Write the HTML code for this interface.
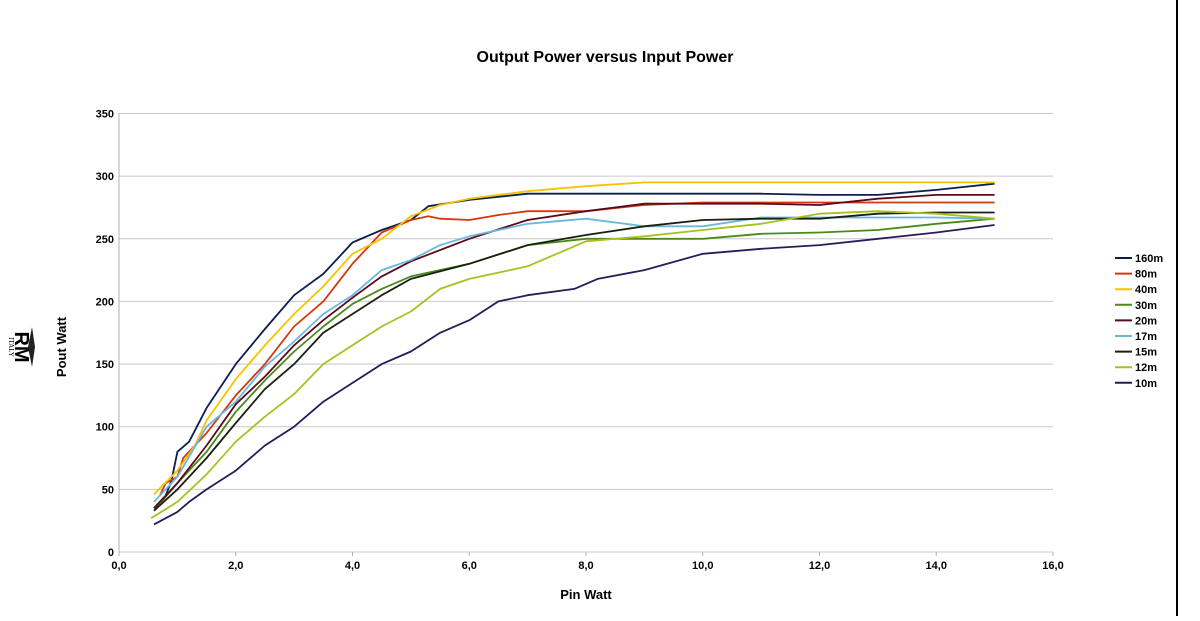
<!DOCTYPE html>
<html><head><meta charset="utf-8"><style>
body{margin:0;background:#fff;font-family:"Liberation Sans",sans-serif}
svg text{font-family:"Liberation Sans",sans-serif}
</style></head><body>
<svg id="chart" width="1200" height="616">
<line x1="1177" y1="0" x2="1177" y2="616" stroke="#000" stroke-width="2"/>
<text x="605" y="62" text-anchor="middle" font-size="16" font-weight="bold">Output Power versus Input Power</text>
<text x="0" y="0" transform="translate(66,347) rotate(-90)" text-anchor="middle" font-size="13" font-weight="bold">Pout Watt</text>
<text x="586" y="599" text-anchor="middle" font-size="13" font-weight="bold">Pin Watt</text>
<g transform="translate(22,347) rotate(90)">
<text x="0" y="7" text-anchor="middle" font-size="20" font-weight="bold">RM</text>
<text x="0" y="13" text-anchor="middle" font-size="7" style="font-family:'Liberation Serif',serif">ITALY</text>
<path d="M-20,-10 L0,-6 L20,-10 L0,-13 Z" fill="#222"/>
</g>
<g id="grid"></g><g id="series"></g><g id="legend"></g>
</svg>
<script>
const xTicks=[0,2,4,6,8,10,12,14,16];
const yTicks=[0,50,100,150,200,250,300,350];
const names=["160m","80m","40m","30m","20m","17m","15m","12m","10m"];
const colors=["#0d1f4f","#d03a10","#f5c400","#4a8a1a","#5a0a1a","#6ab8e0","#1a2010","#a8c020","#2a1a5a"];
const s160x=[0.6,0.8,0.9,1.0,1.2,1.5,2,2.5,3,3.5,4,4.5,5,5.3,6,7,8,9,10,11,12,13,14,15];
const s160y=[35,45,57,80,88,115,150,178,205,222,247,257,265,276,281,286,286,286,286,286,285,285,289,294];
const s80x=[0.7,0.8,1,1.1,1.5,2,2.5,3,3.5,4,4.5,5,5.3,5.5,6,6.5,7,8,9,10,11,12,13,14,15];
const s80y=[45,55,60,75,95,125,150,180,200,230,255,265,268,266,265,269,272,272,277,279,279,279,279,279,279];
const s40x=[0.6,1,1.3,1.5,2,2.5,3,3.5,4,4.5,5,5.5,6,7,8,9,10,11,12,13,14,15];
const s40y=[46,65,85,105,138,165,190,212,238,250,268,277,282,288,292,295,295,295,295,295,295,295];
const s30x=[0.6,1,1.5,2,2.5,3,3.5,4,4.5,5,6,7,8,9,10,11,12,13,14,15];
const s30y=[33,55,80,112,137,160,180,198,210,220,230,245,250,250,250,254,255,257,262,266];
const s20x=[0.6,1,1.5,2,2.5,3,3.5,4,4.5,5,6,7,8,9,10,11,12,13,14,15];
const s20y=[35,55,85,118,140,165,185,203,220,232,250,265,272,278,278,278,277,282,285,285];
const s17x=[0.6,1,1.5,2,2.5,3,3.5,4,4.5,5,5.5,6,7,8,9,10,11,12,13,14,15];
const s17y=[40,60,100,120,148,168,190,205,225,233,245,252,262,266,260,260,267,267,267,267,266];
const s15x=[0.6,1,1.5,2,2.5,3,3.5,4,4.5,5,6,7,8,9,10,11,12,13,14,15];
const s15y=[33,50,75,103,130,150,175,190,205,218,230,245,253,260,265,266,266,270,271,271];
const s12x=[0.55,1,1.5,2,2.5,3,3.5,4,4.5,5,5.5,6,7,8,9,10,11,12,13,14,15];
const s12y=[27,40,62,88,108,126,150,165,180,192,210,218,228,248,252,257,262,270,272,270,266];
const s10x=[0.6,1,1.2,1.5,2,2.5,3,3.5,4,4.5,5,5.5,6,6.5,7,7.8,8.2,9,10,11,12,13,14,15];
const s10y=[22,32,40,50,65,85,100,120,135,150,160,175,185,200,205,210,218,225,238,242,245,250,255,261];
const xs=[s160x,s80x,s40x,s30x,s20x,s17x,s15x,s12x,s10x];
const ys=[s160y,s80y,s40y,s30y,s20y,s17y,s15y,s12y,s10y];
const NS="http://www.w3.org/2000/svg";
const X=v=>119+v*(1053-119)/16, Y=v=>552-v*(552-113.5)/350;
const grid=document.getElementById('grid');
function mk(t,a,p){const e=document.createElementNS(NS,t);for(const k in a)e.setAttribute(k,a[k]);p.appendChild(e);return e;}
yTicks.forEach(t=>{
 const l=mk('line',{x1:119,x2:1053,y1:Y(t),y2:Y(t),stroke:'#c8c8c8','stroke-width':1},grid);
 
 
 const tx=mk('text',{x:114,y:Y(t)+4,'text-anchor':'end','font-size':11,'font-weight':'bold'},grid);tx.textContent=t;
 
 
});
const ax=mk('line',{x1:119,x2:119,y1:113,y2:556,stroke:'#b0b0b0'},grid);


xTicks.forEach(t=>{
 mk('line',{x1:X(t),x2:X(t),y1:552,y2:556,stroke:'#b0b0b0'},grid);
 const tx=mk('text',{x:X(t),y:569,'text-anchor':'middle','font-size':11,'font-weight':'bold'},grid);tx.textContent=t.toFixed(1).replace('.',',');
 
 
});
const sg=document.getElementById('series'),lg=document.getElementById('legend');
names.forEach((n,i)=>{
 const d=xs[i].map((x,j)=>(j?'L':'M')+X(x).toFixed(1)+','+Y(ys[i][j]).toFixed(1)).join(' ');
 const p=mk('path',{d:d,fill:'none',stroke:colors[i],'stroke-width':1.8,'stroke-linejoin':'round'},sg);
 
 
 const yy=258+i*15.6;
 const g=mk('g',{},lg);
 
 
 mk('line',{x1:1115,x2:1132,y1:yy,y2:yy,stroke:colors[i],'stroke-width':2},g);
 const t=mk('text',{x:1135,y:yy+4,'font-size':11,'font-weight':'bold'},g);t.textContent=n;
});
</script>
</body></html>
